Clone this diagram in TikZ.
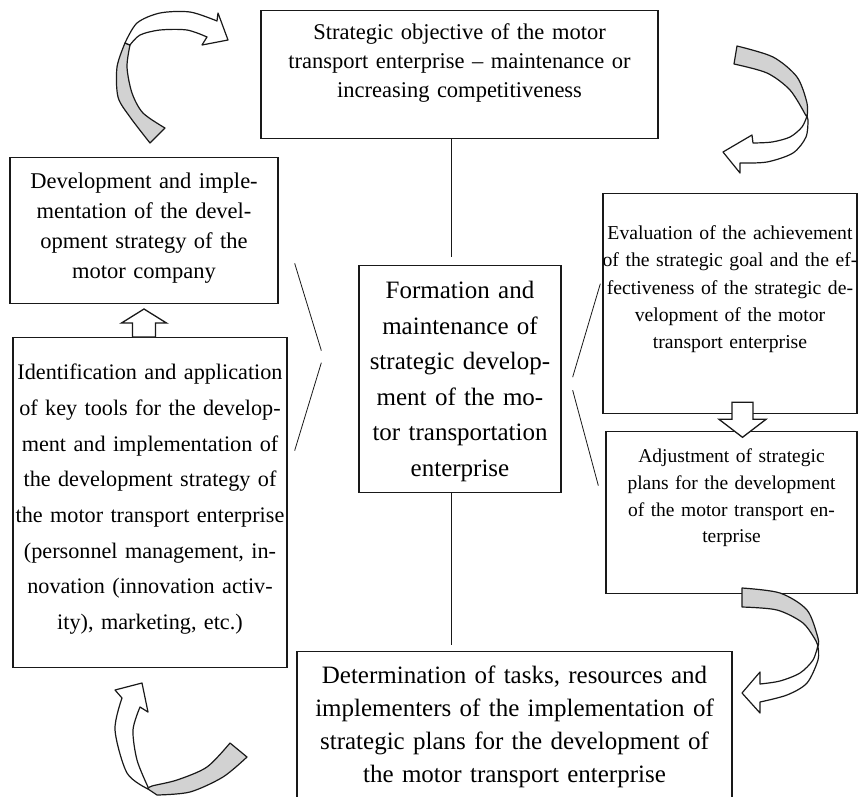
\documentclass[tikz,border=0pt]{standalone}
\usepackage{fontspec}
\setmainfont{Liberation Serif}
\usetikzlibrary{positioning,calc}

\begin{document}
\begin{tikzpicture}[x=1pt, y=-1pt,
    box/.style={rectangle, draw=black!90, line width=1.3pt, anchor=north, align=center, inner xsep=-20pt, inner ysep=0pt},
    link/.style={draw=black!90, line width=0.8pt},
    blockarr/.style={draw=black!90, fill=white, line width=1.3pt, line join=miter},
    ribbon/.style={draw=black!90, line width=1.2pt, line join=round},
    back/.style={ribbon, fill=gray!35},
    front/.style={ribbon, fill=white}
  ]
    \clip (0,0) rectangle (859,796);

    % Nodes - boxes placed at their top edges (text width = box width + 40)
    \node (goal) [box, text width=437pt, text height=29pt, text depth=99pt, font=\fontsize{22.5}{29}\selectfont] at (459.5,10)
      {Strategic objective of the motor\\transport enterprise -- maintenance or\\increasing competitiveness};

    \node (develop) [box, text width=308pt, text height=31pt, text depth=115pt, font=\fontsize{22.5}{30}\selectfont] at (144,157)
      {Development and imple-\\mentation of the devel-\\opment strategy of the\\motor company};

    \node (tools) [box, text width=314pt, text height=42pt, text depth=288pt, font=\fontsize{22.2}{35.7}\selectfont] at (150,337)
      {Identification and application\\of key tools for the develop-\\ment and implementation of\\the development strategy of\\the motor transport enterprise\\(personnel management, in-\\novation (innovation activ-\\ity), marketing, etc.)};

    \node (core) [box, text width=242pt, text height=33pt, text depth=194pt, font=\fontsize{25}{35.5}\selectfont] at (460,265)
      {Formation and\\maintenance of\\strategic develop-\\ment of the mo-\\tor transportation\\enterprise};

    \node (evaluate) [box, text width=294pt, text height=46pt, text depth=174pt, font=\fontsize{19.7}{27.3}\selectfont] at (730,193)
      {Evaluation of the achievement\\of the strategic goal and the ef-\\fectiveness of the strategic de-\\velopment of the motor\\transport enterprise};

    \node (adjust) [box, text width=291pt, text height=31pt, text depth=131pt, font=\fontsize{19.5}{26.7}\selectfont] at (731.5,431)
      {Adjustment of strategic\\plans for the development\\of the motor transport en-\\terprise};

    \node (tasks) [box, text width=475pt, text height=32pt, text depth=140pt, font=\fontsize{25}{32.8}\selectfont] at (514.5,651)
      {Determination of tasks, resources and\\implementers of the implementation of\\strategic plans for the development of\\the motor transport enterprise};

    % Plain links to the central box
    \draw [link, shorten >=8pt] ([xshift=-8pt]goal.south) -- ([xshift=-8pt]goal.south |- core.north);
    \draw [link, shorten >=6pt] ([xshift=-9pt]core.south) -- ([xshift=-9pt]core.south |- tasks.north);
    \draw [link] ($(core.west)+(-37,-28.5)$) -- ($(develop.south east)+(16,-41)$);
    \draw [link] ($(core.west)+(-37,-16.5)$) -- ($(tools.east)+(7,-52)$);
    \draw [link] ($(core.east)+(11,-2)$) -- ($(evaluate.west)+(-2,-20)$);
    \draw [link] ($(core.east)+(11,11)$) -- ($(adjust.west)+(-7,-27)$);

    % Block arrows between boxes
    \draw [blockarr] (tools.north -| develop.south) ++(-11.5,0) -- ++(0,-14) -- ++(-11,0) -- ++(22.5,-14) -- ++(22.5,14) -- ++(-11,0) -- ++(0,14) -- cycle;
    \draw [blockarr] ($(evaluate.south)+(12.5,-12)$) ++(-10.5,0) -- ++(0,17) -- ++(-13,0) -- ++(23.5,18) -- ++(23.5,-18) -- ++(-13,0) -- ++(0,-17) -- cycle;

    % Curved ribbon arrows (grey back, white front)
    % top left
    \draw [back] plot[smooth] coordinates {(150,143) (130,117) (118,97) (117,67) (125,43)} -- plot[smooth] coordinates {(130,45) (127,67) (132,93) (143,113) (165,128)} -- cycle;
    \draw [front] plot[smooth] coordinates {(125,43) (137,23) (160,13) (190,12) (217,21)} -- (218,13) -- (228,40) -- (202,45) -- plot[smooth] coordinates {(207,37) (187,30) (160,30) (140,35) (130,45)} -- cycle;
    % top right
    \draw [back] plot[smooth] coordinates {(737,46) (773,57) (797,77) (807,103) (807,117)} -- plot[smooth] coordinates {(805,114) (790,90) (767,73) (734,64)} -- cycle;
    \draw [front] plot[smooth] coordinates {(807,116) (802,127) (790,137) (772,142) (753,143)} -- (752,135) -- (723,152) -- (740,173) -- plot[smooth] coordinates {(740,163) (767,162) (793,153) (806,137) (808,120)} -- cycle;
    % bottom right
    \draw [back] plot[smooth] coordinates {(742,588) (780,593) (807,610) (818,638) (818,646)} -- plot[smooth] coordinates {(816,641) (803,623) (777,610) (742,607)} -- cycle;
    \draw [front] plot[smooth] coordinates {(818,645) (813,660) (800,673) (780,681) (760,684)} -- (760,672) -- (742,693) -- (760,713) -- plot[smooth] coordinates {(760,702) (787,695) (807,683) (818,660) (818,647)} -- cycle;
    % bottom left
    \draw [back] plot[smooth] coordinates {(230,743) (207,767) (177,780) (152,786) (148,789)} -- plot[smooth] coordinates {(157,795) (190,792) (223,777) (247,757)} -- cycle;
    \draw [front] plot[smooth] coordinates {(148,789) (127,773) (115,730) (122,698)} -- (115,690) -- (142,683) -- (148,712) -- plot[smooth] coordinates {(140,707) (133,730) (137,760) (148,787)} -- cycle;
\end{tikzpicture}
\end{document}
